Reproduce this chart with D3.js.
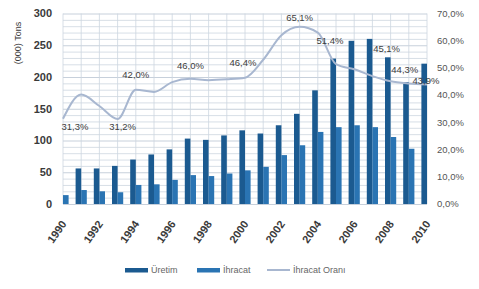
<!DOCTYPE html>
<html>
<head>
<meta charset="utf-8">
<script src="https://cdn.jsdelivr.net/npm/d3@7"></script>
<style>
  body { margin: 0; background: #fff; }
  svg { display: block; font-family: "Liberation Sans", Arial, sans-serif; }
</style>
</head>
<body>
<div id="chart"></div>
<script>
// Üretim / İhracat bars with İhracat Oranı line

const years = [1990, 1991, 1992, 1993, 1994, 1995, 1996, 1997, 1998, 1999, 2000,
  2001, 2002, 2003, 2004, 2005, 2006, 2007, 2008, 2009, 2010];
const uretim = [45, 56, 56, 60, 70, 78, 86, 103, 101, 108, 116,
  111, 124, 142, 179, 229, 257, 260, 231, 192, 221];
const ihracat = [14, 22, 20, 18.5, 30, 31, 38, 45.5, 44, 48, 53,
  58.5, 77, 92.5, 113.5, 121, 124, 121, 105.5, 87, 97];
const oran = [31.3, 40.2, 36, 31.2, 42.0, 41.2, 44.8, 46.0, 45.5, 45.8, 46.4,
  53, 62, 65.1, 63, 51.4, 49.5, 47, 45.1, 44.3, 43.9];
const labelYears = [1990, 1993, 1994, 1997, 2000, 2003, 2005, 2008, 2009, 2010];
const xTickYears = [1990, 1992, 1994, 1996, 1998, 2000, 2002, 2004, 2006, 2008, 2010];
const leftTicks = [0, 50, 100, 150, 200, 250, 300];
const rightTicks = [0, 10, 20, 30, 40, 50, 60, 70];
const seriesNames = ["Üretim", "İhracat", "İhracat Oranı"];

const [w, h] = [479, 289];
const plot = { left: 63, right: 427, top: 13.5, bottom: 204 };
const [uColor, iColor, lineColor] = ["#1b5a90", "#2a74b3", "#a8b7d0"];
const gridColor = "#cdd5df";

// label placement offsets (pixels, relative to the point)
const labelOffset = {
  1990: [12, 11], 1993: [5, 11], 1994: [0, -12], 1997: [0, -10], 2000: [-2, -12],
  2003: [0, -6], 2005: [-6, -20], 2008: [-4, -29], 2009: [-4, -10], 2010: [-1, -1]
};

const svg = d3.select("#chart").
append("svg").
attr("width", w).
attr("height", h);

const x = d3.scalePoint().
domain(years).
range([plot.left, plot.right]);

const sub = d3.scaleBand().
domain(seriesNames.slice(0, 2)).
range([-5.6, 5.6]);

const yLeft = d3.scaleLinear().
domain([0, 300]).
range([plot.bottom, plot.top]);

const yRight = d3.scaleLinear().
domain([0, 70]).
range([plot.bottom, plot.top]);

// grid
const grid = svg.append("g").attr("class", "grid");
grid.selectAll("line.h").
data(d3.range(0, 301, 10)).
enter().
append("line").
attr("x1", plot.left).
attr("x2", plot.right).
attr("y1", d => yLeft(d) + 0.5).
attr("y2", d => yLeft(d) + 0.5).
attr("stroke", d => d % 50 === 0 ? "#b9c4d2" : gridColor).
attr("stroke-width", 0.8);

grid.selectAll("line.v").
data(years).
enter().
append("line").
attr("x1", d => x(d)).
attr("x2", d => x(d)).
attr("y1", plot.top).
attr("y2", plot.bottom).
attr("stroke", gridColor).
attr("stroke-width", 0.8);

svg.append("clipPath").
attr("id", "plot-clip").
append("rect").
attr("x", plot.left).
attr("y", 0).
attr("width", plot.right - plot.left).
attr("height", plot.bottom + 1);

const bars = svg.append("g").attr("clip-path", "url(#plot-clip)");

bars.selectAll("rect.u").
data(years).
enter().
append("rect").
attr("x", d => x(d) + sub("Üretim")).
attr("width", sub.bandwidth()).
attr("y", (d, i) => yLeft(uretim[i])).
attr("height", (d, i) => yLeft(0) - yLeft(uretim[i])).
attr("fill", uColor);

bars.selectAll("rect.i").
data(years).
enter().
append("rect").
attr("x", d => x(d) + sub("İhracat")).
attr("width", sub.bandwidth()).
attr("y", (d, i) => yLeft(ihracat[i])).
attr("height", (d, i) => yLeft(0) - yLeft(ihracat[i])).
attr("fill", iColor);

// ratio line
const line = d3.line().
x((d, i) => x(years[i])).
y(d => yRight(d)).
curve(d3.curveMonotoneX);

svg.append("path").
datum(oran).
attr("d", line).
attr("fill", "none").
attr("stroke", lineColor).
attr("stroke-width", 2);

// data labels
svg.append("g").
selectAll("text").
data(labelYears).
enter().
append("text").
attr("x", d => x(d) + labelOffset[d][0]).
attr("y", d => yRight(oran[years.indexOf(d)]) + labelOffset[d][1]).
attr("text-anchor", "middle").
attr("fill", "#3d3d3d").
style("font-size", "9.5px").
text(d => oran[years.indexOf(d)].toFixed(1).replace(".", ",") + "%");

// axes
svg.append("g").
selectAll("text").
data(leftTicks).
enter().
append("text").
attr("x", plot.left - 11).
attr("y", d => yLeft(d)).
attr("dy", "0.35em").
attr("text-anchor", "end").
attr("fill", "#3a3a3a").
style("font-size", "11px").
style("font-weight", "bold").
text(d => d);

svg.append("g").
selectAll("text").
data(rightTicks).
enter().
append("text").
attr("x", plot.right + 10).
attr("y", d => yRight(d)).
attr("dy", "0.35em").
attr("fill", "#555").
style("font-size", "9.5px").
text(d => d.toFixed(1).replace(".", ",") + "%");

svg.append("g").
selectAll("text").
data(xTickYears).
enter().
append("text").
attr("transform", d => `translate(${x(d) + 4},${plot.bottom + 20}) rotate(-55)`).
attr("text-anchor", "end").
attr("fill", "#3a3a3a").
style("font-size", "11px").
style("font-weight", "bold").
text(d => d);

svg.append("text").
attr("transform", "translate(21,43) rotate(-90)").
attr("text-anchor", "middle").
attr("fill", "#3a3a3a").
style("font-size", "9px").
text("(000) Tons");

// legend
const legend = svg.append("g").attr("transform", "translate(125,270)");
const legendX = [0, 72, 142];
seriesNames.forEach((name, i) => {
  const g = legend.append("g").attr("transform", `translate(${legendX[i]},0)`);
  if (i < 2) {
    g.append("rect").
    attr("x", 0).
    attr("y", -2).
    attr("width", 23).
    attr("height", 4.5).
    attr("fill", i === 0 ? uColor : iColor);
  } else {
    g.append("line").
    attr("x1", 0).
    attr("x2", 23).
    attr("y1", 0).
    attr("y2", 0).
    attr("stroke", lineColor).
    attr("stroke-width", 2);
  }
  g.append("text").
  attr("x", 26).
  attr("y", 0).
  attr("dy", "0.35em").
  attr("fill", "#666").
  style("font-size", "9px").
  text(name);
});
</script>
</body>
</html>
